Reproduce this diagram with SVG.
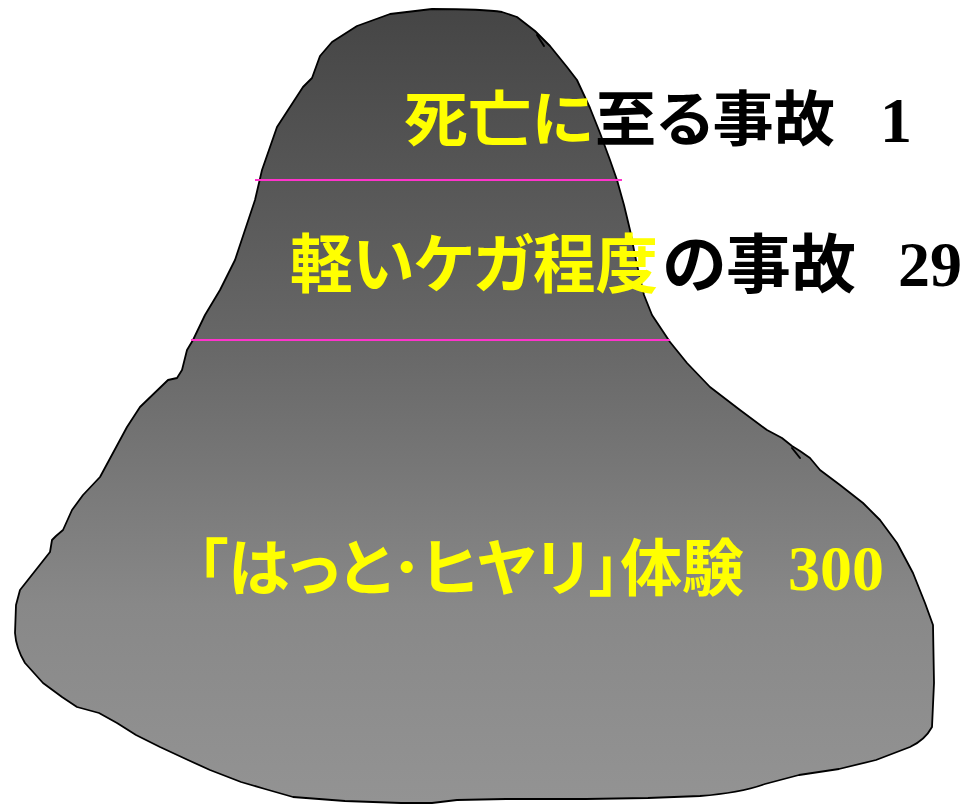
<svg xmlns="http://www.w3.org/2000/svg" width="963" height="804" viewBox="0 0 963 804">
  <defs>
    <linearGradient id="rockFill" gradientUnits="userSpaceOnUse" x1="0" y1="8" x2="0" y2="803">
      <stop offset="0" stop-color="#454545"/>
      <stop offset="0.42" stop-color="#676767"/>
      <stop offset="0.75" stop-color="#888888"/>
      <stop offset="1" stop-color="#939393"/>
    </linearGradient>
    <style>
      .rock { fill: url(#rockFill); stroke: #000; stroke-width: 1.8; stroke-linejoin: round; }
      .tick { fill: none; stroke: #000; stroke-width: 2; stroke-linecap: round; }
      .divider { stroke: #ff33cc; stroke-width: 2; }
      .jp { font-family: "Noto Sans CJK JP", "Noto Sans", sans-serif; font-weight: bold; font-feature-settings: "palt"; }
      .num { font-family: "Liberation Serif", "Times New Roman", serif; font-weight: bold; font-size: 64px; }
      .yel { fill: #ffff00; }
      .blk { fill: #000000; }
    </style>
  </defs>

  <g id="mountain">
    <path class="rock" d="M 432,9 C 460,9 490,10 502,12 L 517,17 L 535,31 L 550,46 L 567,67 L 577,80 L 590,108 L 600,133 L 610,160 L 617,180 L 624,205 L 630,230 L 637,265 L 644,295 L 652,315 L 662,330 L 670,342 L 687,363 L 710,387 L 740,410 L 767,430 L 782,438 L 792,446 L 800,451 L 810,458 L 820,470 L 840,485 L 863,503 L 880,520 L 897,543 L 913,573 L 925,603 L 933,625 L 934,683 L 932,727 Q 925,740 910,747 L 876,760 L 839,769 L 799,775 L 765,784 Q 740,793 700,796 L 648,798 L 586,799 L 506,799 L 457,800 L 432,803 L 401,803 L 345,801 L 293,797 L 265,789 L 241,782 L 210,770 L 188,760 L 160,747 L 136,735 L 117,723 L 99,713 L 77,707 L 62,697 L 43,683 L 25,663 Q 16,648 15,633 L 16,605 L 20,590 L 50,552 L 52,540 L 56,536 L 63,530 L 72,510 L 83,495 L 100,477 L 127,427 L 140,407 L 168,380 L 177,378 L 182,370 L 187,350 L 193,340 L 205,315 L 220,290 L 235,260 L 245,230 L 255,200 L 262,170 L 277,127 L 303,87 L 312,78 L 320,56 L 332,42 L 357,26 L 390,14 Z"/>
    <path class="tick" d="M 537,35 L 544,46"/>
    <path class="tick" d="M 792,448 L 800,458"/>
  </g>

  <g id="dividers">
    <line class="divider" x1="255" y1="180" x2="622" y2="180"/>
    <line class="divider" x1="191" y1="340" x2="670" y2="340"/>
  </g>

  <g id="label-fatal">
    <text class="jp" font-size="60" y="141"><tspan class="yel" x="404" textLength="189" lengthAdjust="spacingAndGlyphs">死亡に</tspan><tspan class="blk" x="595" textLength="240" lengthAdjust="spacingAndGlyphs">至る事故</tspan></text>
    <text class="num blk" x="880" y="142">1</text>
  </g>

  <g id="label-minor">
    <text class="jp" font-size="64" y="287"><tspan class="yel" x="290" textLength="368" lengthAdjust="spacingAndGlyphs">軽いケガ程度</tspan><tspan class="blk" x="662" textLength="194" lengthAdjust="spacingAndGlyphs">の事故</tspan></text>
    <text class="num blk" x="898" y="286">29</text>
  </g>

  <g id="label-nearmiss">
    <text class="jp yel" font-size="62" x="197" y="591" textLength="547" lengthAdjust="spacingAndGlyphs">「はっと･ヒヤリ」体験</text>
    <text class="num yel" x="788" y="590">300</text>
  </g>
</svg>
